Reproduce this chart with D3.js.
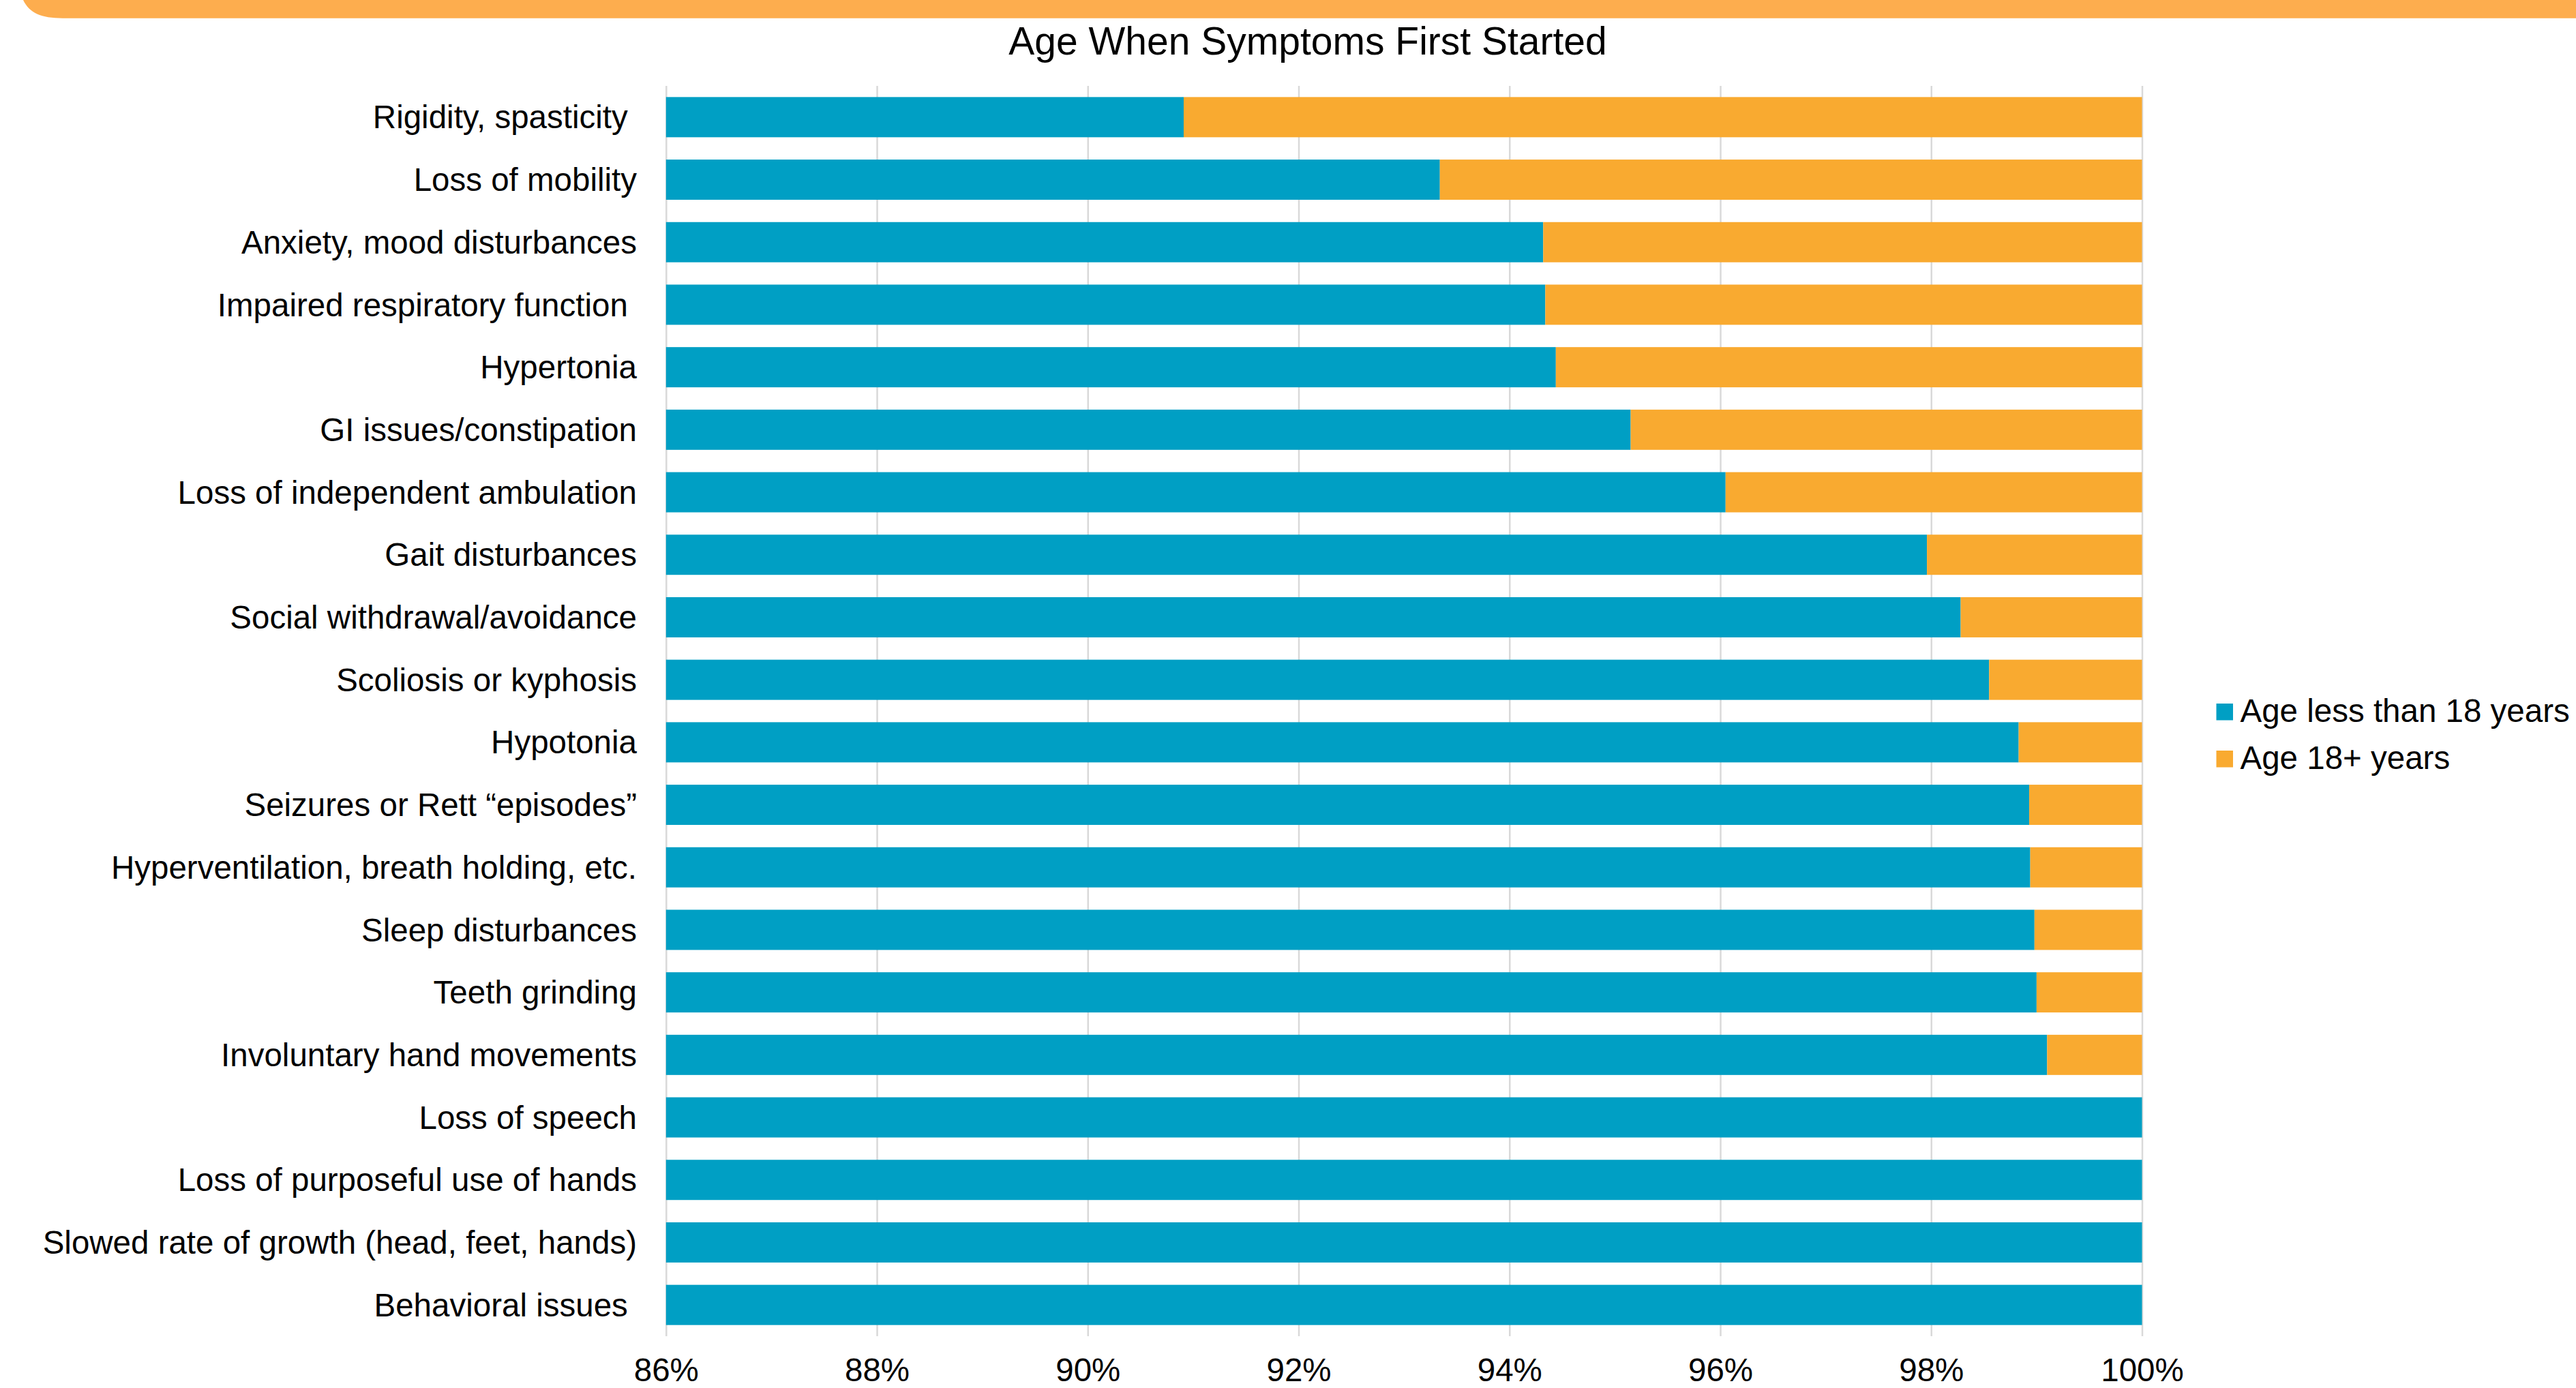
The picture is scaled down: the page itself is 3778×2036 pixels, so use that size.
<!DOCTYPE html>
<html>
<head>
<meta charset="utf-8">
<script src="https://cdn.jsdelivr.net/npm/d3@7"></script>
<style>
  html, body { margin: 0; padding: 0; background: #ffffff; }
  svg { display: block; }
  text { font-family: "Liberation Sans", Arial, sans-serif; fill: #000; }
</style>
</head>
<body>
<script>
const categories = [
  "Rigidity, spasticity ",
  "Loss of mobility",
  "Anxiety, mood disturbances",
  "Impaired respiratory function ",
  "Hypertonia",
  "GI issues/constipation",
  "Loss of independent ambulation",
  "Gait disturbances",
  "Social withdrawal/avoidance",
  "Scoliosis or kyphosis",
  "Hypotonia",
  "Seizures or Rett \u201cepisodes\u201d",
  "Hyperventilation, breath holding, etc.",
  "Sleep disturbances",
  "Teeth grinding",
  "Involuntary hand movements",
  "Loss of speech",
  "Loss of purposeful use of hands",
  "Slowed rate of growth (head, feet, hands)",
  "Behavioral issues "
];
const under18 = [90.91, 93.34, 94.32, 94.34, 94.44, 95.15, 96.05, 97.96, 98.28, 98.55,
                 98.83, 98.93, 98.94, 98.98, 99.00, 99.10, 100, 100, 100, 100];
const adult18 = [9.09, 6.66, 5.68, 5.66, 5.56, 4.85, 3.95, 2.04, 1.72, 1.45,
                 1.17, 1.07, 1.06, 1.02, 1.00, 0.90, 0, 0, 0, 0];
const seriesNames = ["Age less than 18 years", "Age 18+ years"];
const xTicks = [86, 88, 90, 92, 94, 96, 98, 100];
const title = "Age When Symptoms First Started";

const W = 3778, H = 2036;
const colors = ["#009FC4", "#F9AA30"];
const plot = { left: 976.8, right: 3141.5, top: 126, bottom: 1960 };

const svg = d3.select("body").append("svg").attr("width", W).attr("height", H);
svg.append("rect").attr("width", W).attr("height", H).attr("fill", "#ffffff");

// orange banner at top
svg.append("path")
  .attr("d", "M34,0 C43,19 60,26.7 92,26.7 L" + W + ",26.7 L" + W + ",0 Z")
  .attr("fill", "#FDAD4E");

// title
svg.append("text").attr("x", 1918).attr("y", 80)
  .attr("text-anchor", "middle").style("font-size", "57px").text(title);

const x = d3.scaleLinear().domain([86, 100]).range([plot.left, plot.right]);
const y = d3.scaleBand().domain(categories).range([plot.top, plot.bottom])
  .paddingInner(0.357).paddingOuter(0.1785);

// gridlines + tick labels
const axis = d3.axisBottom(x).tickValues(xTicks).tickFormat(d => d + "%")
  .tickSizeInner(-(plot.bottom - plot.top)).tickSizeOuter(0).tickPadding(32);
const gAx = svg.append("g").attr("transform", `translate(0,${plot.bottom})`).call(axis);
gAx.select(".domain").remove();
gAx.selectAll(".tick line").attr("stroke", "#D9D9D9").attr("stroke-width", 2.5);
gAx.selectAll(".tick text").style("font-size", "47.5px").attr("fill", "#000")
  .style("font-family", "'Liberation Sans', Arial, sans-serif");

// stacked bars
const rows = categories.map((c, i) => ({ c, a: under18[i], b: adult18[i] }));
const gBars = svg.append("g");
gBars.selectAll("rect.s1").data(rows).join("rect")
  .attr("x", x(86)).attr("y", d => y(d.c))
  .attr("width", d => x(d.a) - x(86)).attr("height", y.bandwidth())
  .attr("fill", colors[0]);
gBars.selectAll("rect.s2").data(rows.filter(d => d.b > 0)).join("rect")
  .attr("x", d => x(d.a)).attr("y", d => y(d.c))
  .attr("width", d => x(d.a + d.b) - x(d.a)).attr("height", y.bandwidth())
  .attr("fill", colors[1]);

// category labels
svg.append("g").selectAll("text").data(categories).join("text")
  .attr("x", 934).attr("y", d => y(d) + y.bandwidth() / 2)
  .attr("dy", "0.35em").attr("text-anchor", "end")
  .style("white-space", "pre").style("font-size", "47.5px")
  .text(d => d);

// legend
const lg = svg.append("g");
seriesNames.forEach((s, i) => {
  const yy = 1032 + i * 69;
  lg.append("rect").attr("x", 3250.5).attr("y", yy).attr("width", 24.5).attr("height", 24.5)
    .attr("fill", colors[i]);
  lg.append("text").attr("x", 3285.5).attr("y", yy + 27).style("font-size", "47.5px").text(s);
});
</script>
</body>
</html>
